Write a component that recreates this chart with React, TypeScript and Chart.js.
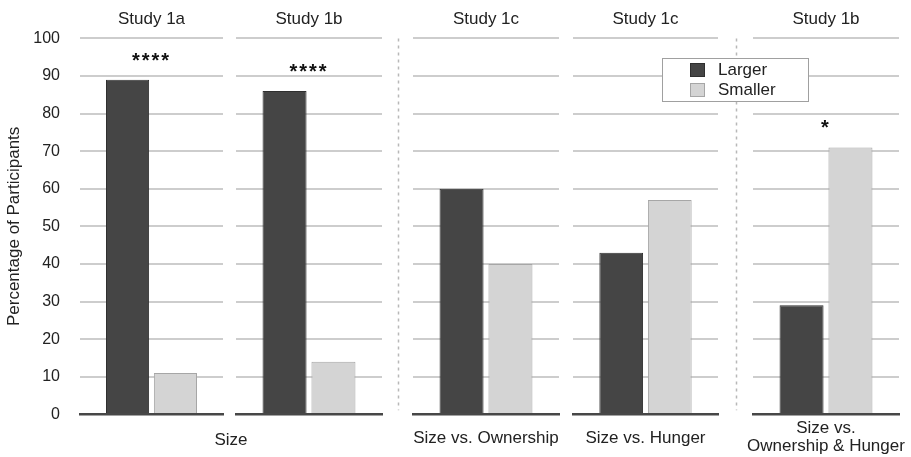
import React, { useEffect, useRef } from 'react';
import { Chart, registerables } from 'chart.js';

Chart.register(...registerables);

// ---------- data ----------
const panelTitles = ['Study 1a', 'Study 1b', 'Study 1c', 'Study 1c', 'Study 1b'];
const panelCategories: (string | string[])[] = ['', '', 'Size vs. Ownership', 'Size vs. Hunger', ['Size vs.', 'Ownership & Hunger']];
const sharedCategory = 'Size';
const seriesNames = ['Larger', 'Smaller'];
const largerValues = [89, 86, 60, 43, 29];
const smallerValues = [11, 14, 40, 57, 71];
const significance = ['****', '****', '', '', '*'];
const yAxisTitle = 'Percentage of Participants';
const yMin = 0;
const yMax = 100;
const yStep = 10;

// ---------- layout / style ----------
const W = 911;
const H = 457;
const PANELS: [number, number][] = [[80, 223], [236, 382], [413, 559], [573, 718], [753, 899]];
const X_AXIS_H = 42.7;
const FONT = '"Liberation Sans", Arial, Helvetica, sans-serif';
const TEXT = '#222222';
const DARK = '#454545';
const DARK_BORDER = '#2f2f2f';
const LIGHT = '#d4d4d4';
const LIGHT_BORDER = '#a6a6a6';
const GRID = '#cdcdcd';
const ZERO = '#474747';

Chart.defaults.font.family = FONT;

function makeConfig(i: number): any {
  const isFirst = i === 0;
  const isLast = i === PANELS.length - 1;
  const label = panelCategories[i];
  const multiLine = Array.isArray(label);

  const sigPlugin = {
    id: 'sig' + i,
    afterDatasetsDraw(chart: any) {
      const text = significance[i];
      if (!text) return;
      const m0 = chart.getDatasetMeta(0).data[0];
      const m1 = chart.getDatasetMeta(1).data[0];
      const top = Math.min(m0.y, m1.y);
      const { left, right } = chart.chartArea;
      const ctx = chart.ctx;
      ctx.save();
      ctx.fillStyle = '#111';
      ctx.font = 'bold 20px ' + FONT;
      ctx.textAlign = 'center';
      ctx.textBaseline = 'alphabetic';
      (ctx as any).letterSpacing = '2px';
      ctx.fillText(text, (left + right) / 2, top - 13);
      ctx.restore();
    },
  };

  const groupLabelPlugin = {
    id: 'groupLabel',
    afterDraw(chart: any) {
      if (!isFirst) return;
      const ctx = chart.ctx;
      ctx.save();
      ctx.fillStyle = TEXT;
      ctx.font = '17px ' + FONT;
      ctx.textAlign = 'center';
      ctx.textBaseline = 'middle';
      ctx.fillText(sharedCategory, (PANELS[0][0] + PANELS[1][1]) / 2, 440);
      ctx.restore();
    },
  };

  const overlayPlugin = {
    id: 'overlay',
    afterDraw(chart: any) {
      if (!isLast) return;
      const ctx = chart.ctx;
      const top = chart.chartArea.top;
      const bottom = chart.chartArea.bottom;
      ctx.save();
      // dashed separators between study groups
      ctx.strokeStyle = '#b8b8b8';
      ctx.lineWidth = 1.5;
      ctx.setLineDash([3, 4]);
      [[1, 2], [3, 4]].forEach(([a, b]) => {
        const x = Math.round((PANELS[a][1] + PANELS[b][0]) / 2) + 0.5;
        ctx.beginPath();
        ctx.moveTo(x, top);
        ctx.lineTo(x, bottom - 4);
        ctx.stroke();
      });
      ctx.setLineDash([]);
      // legend box
      const bx = 662.5, by = 58.5, bw = 146, bh = 43;
      ctx.fillStyle = '#ffffff';
      ctx.fillRect(bx, by, bw, bh);
      ctx.strokeStyle = '#a0a0a0';
      ctx.lineWidth = 1;
      ctx.strokeRect(bx, by, bw, bh);
      const fills = [DARK, LIGHT];
      const strokes = [DARK_BORDER, LIGHT_BORDER];
      ctx.font = '17px ' + FONT;
      ctx.textAlign = 'left';
      ctx.textBaseline = 'middle';
      seriesNames.forEach((name, k) => {
        const sy = 63 + k * 20;
        ctx.fillStyle = fills[k];
        ctx.fillRect(690, sy, 15, 14);
        ctx.strokeStyle = strokes[k];
        ctx.strokeRect(690.5, sy + 0.5, 14, 13);
        ctx.fillStyle = TEXT;
        ctx.fillText(name, 718, sy + 7.5);
      });
      ctx.restore();
    },
  };

  return {
    type: 'bar',
    data: {
      labels: [label],
      datasets: [
        {
          label: seriesNames[0],
          data: [largerValues[i]],
          backgroundColor: DARK,
          borderColor: DARK_BORDER,
          borderWidth: 1,
          categoryPercentage: 0.67,
          barPercentage: 0.9,
        },
        {
          label: seriesNames[1],
          data: [smallerValues[i]],
          backgroundColor: LIGHT,
          borderColor: LIGHT_BORDER,
          borderWidth: 1,
          categoryPercentage: 0.67,
          barPercentage: 0.9,
        },
      ],
    },
    options: {
      responsive: false,
      animation: false,
      events: [],
      layout: {
        padding: { left: isFirst ? 0 : PANELS[i][0], right: W - PANELS[i][1], top: 0, bottom: 0 },
      },
      plugins: {
        legend: { display: false },
        tooltip: { enabled: false },
        title: {
          display: true,
          text: panelTitles[i],
          fullSize: false,
          color: TEXT,
          font: { size: 17, weight: 'normal', family: FONT },
          padding: { top: 9, bottom: 9 },
        },
      },
      scales: {
        x: {
          type: 'category',
          grid: { display: false, drawTicks: false },
          border: { display: true, color: ZERO, width: 2.5, z: 1 },
          ticks: {
            display: !!(multiLine ? (label as string[]).length : label),
            color: TEXT,
            font: { size: 17, family: FONT, lineHeight: multiLine ? 1.06 : 1.2 },
            padding: multiLine ? 5 : 14,
            maxRotation: 0,
            minRotation: 0,
            autoSkip: false,
          },
          afterFit: (s: any) => {
            s.height = X_AXIS_H;
            s.paddingLeft = 0;
            s.paddingRight = 0;
          },
        },
        y: {
          min: yMin,
          max: yMax,
          grid: { color: GRID, lineWidth: 2, drawTicks: false },
          border: { display: false },
          ticks: {
            display: isFirst,
            stepSize: yStep,
            color: TEXT,
            font: { size: 16, family: FONT },
            padding: 20,
          },
          title: {
            display: isFirst,
            text: yAxisTitle,
            color: TEXT,
            font: { size: 17, family: FONT },
            padding: { top: 4, bottom: 0 },
          },
          afterFit: (s: any) => {
            s.width = isFirst ? PANELS[0][0] : 0;
          },
        },
      },
    },
    plugins: [sigPlugin, groupLabelPlugin, overlayPlugin],
  };
}

export default function App() {
  const refs = useRef<(HTMLCanvasElement | null)[]>([]);
  useEffect(() => {
    const charts = PANELS.map((_, i) => new Chart(refs.current[i] as HTMLCanvasElement, makeConfig(i)));
    return () => charts.forEach((c) => c.destroy());
  }, []);
  return (
    <div style={{ position: 'fixed', left: 0, top: 0, width: W, height: H, background: '#ffffff' }}>
      {PANELS.map((_, i) => (
        <canvas
          key={i}
          ref={(el) => {
            refs.current[i] = el;
          }}
          width={W}
          height={H}
          style={{ position: 'absolute', left: 0, top: 0, width: W, height: H }}
        />
      ))}
    </div>
  );
}
